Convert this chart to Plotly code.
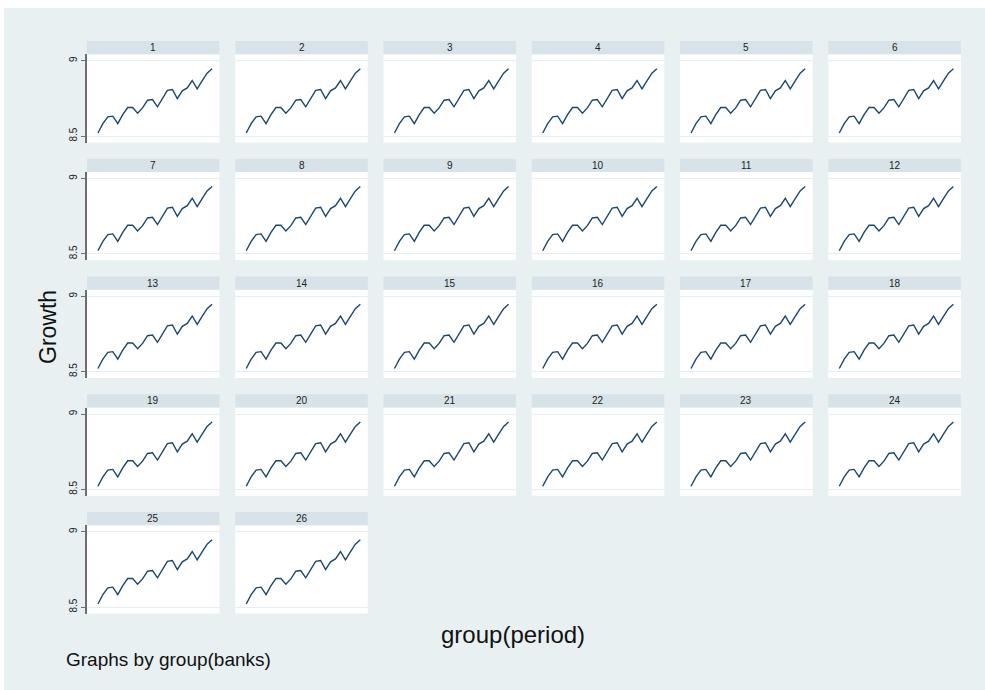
import plotly.graph_objects as go

# Growth series by period (same path for every bank panel)
periods = list(range(1, 25))
growth = [8.520, 8.582, 8.627, 8.632, 8.582, 8.642, 8.689, 8.689, 8.652, 8.687,
          8.738, 8.742, 8.694, 8.753, 8.803, 8.809, 8.749, 8.800, 8.820, 8.869,
          8.813, 8.866, 8.918, 8.947]
banks = [str(b) for b in range(1, 27)]
ytick_vals = [8.5, 9]
ytick_text = ["8.5", "9"]

W, H = 985, 690
BG = "#e8f0f2"
STRIP = "#d7e3e9"
GRID = "#e6eef1"
LINE = "#1a476f"
FONT = "Liberation Sans, Arial, sans-serif"

NCOL = 6
COL_LEFT0, COL_STEP, PANEL_W = 87.0, 148.27, 132.5
ROW_TOP0, ROW_STEP = 41.0, 117.75
STRIP_H, PANEL_H = 13.3, 101.5


def fx(px):
    return px / W


def fy(py):
    return 1 - py / H


fig = go.Figure()
shapes = []
annotations = []

for i, bank in enumerate(banks):
    r, c = divmod(i, NCOL)
    left = COL_LEFT0 + COL_STEP * c
    right = left + PANEL_W
    strip_top = ROW_TOP0 + ROW_STEP * r
    plot_top = strip_top + STRIP_H
    plot_bot = strip_top + PANEL_H
    n = i + 1
    xa = "xaxis" if n == 1 else f"xaxis{n}"
    ya = "yaxis" if n == 1 else f"yaxis{n}"
    xr = "x" if n == 1 else f"x{n}"
    yr = "y" if n == 1 else f"y{n}"
    first_col = c == 0

    fig.add_trace(go.Scatter(x=periods, y=growth, mode="lines",
                             line=dict(color=LINE, width=1.4),
                             xaxis=xr, yaxis=yr, showlegend=False,
                             hoverinfo="skip"))

    fig.layout[xa] = dict(domain=[fx(left), fx(right)], range=[-1.2, 25.5],
                          visible=False, anchor=yr)
    fig.layout[ya] = dict(domain=[fy(plot_bot), fy(plot_top)],
                          range=[8.4568, 9.0432], anchor=xr,
                          tickvals=ytick_vals, ticktext=ytick_text,
                          tickangle=-90,
                          ticks="outside" if first_col else "",
                          ticklen=4, tickwidth=1.3, tickcolor="#6e6e6e",
                          showticklabels=first_col,
                          tickfont=dict(size=10, color="#222222", family=FONT),
                          showline=first_col, linecolor="#6e6e6e",
                          linewidth=1.6,
                          showgrid=True, gridcolor=GRID, gridwidth=1.2,
                          zeroline=False, fixedrange=True)

    # panel header strip with bank number
    shapes.append(dict(type="rect", xref="paper", yref="paper",
                       x0=fx(left), x1=fx(right),
                       y0=fy(plot_top), y1=fy(strip_top),
                       fillcolor=STRIP, line=dict(width=0), layer="above"))
    annotations.append(dict(text=bank, xref="paper", yref="paper",
                            x=fx((left + right) / 2),
                            y=fy((strip_top + plot_top) / 2),
                            xanchor="center", yanchor="middle", showarrow=False,
                            font=dict(size=10, color="#222222", family=FONT)))

# white margin above and left of the graph region
shapes.append(dict(type="rect", xref="paper", yref="paper", x0=0, x1=1,
                   y0=fy(8), y1=1, fillcolor="white", line=dict(width=0),
                   layer="above"))
shapes.append(dict(type="rect", xref="paper", yref="paper", x0=0, x1=fx(4),
                   y0=0, y1=1, fillcolor="white", line=dict(width=0),
                   layer="above"))

annotations += [
    dict(text="Growth", xref="paper", yref="paper", x=fx(48), y=fy(327),
         xanchor="center", yanchor="middle", textangle=-90, showarrow=False,
         font=dict(size=23, color="#111111", family=FONT)),
    dict(text="group(period)", xref="paper", yref="paper", x=fx(513),
         y=fy(634), xanchor="center", yanchor="middle", showarrow=False,
         font=dict(size=24, color="#111111", family=FONT)),
    dict(text="Graphs by group(banks)", xref="paper", yref="paper", x=fx(64),
         y=fy(659), xanchor="left", yanchor="middle", showarrow=False,
         font=dict(size=19, color="#111111", family=FONT)),
]

fig.update_layout(width=W, height=H, margin=dict(l=0, r=0, t=0, b=0),
                  paper_bgcolor=BG, plot_bgcolor="white",
                  shapes=shapes, annotations=annotations, showlegend=False,
                  font=dict(family=FONT))

fig.write_html("out.html")
